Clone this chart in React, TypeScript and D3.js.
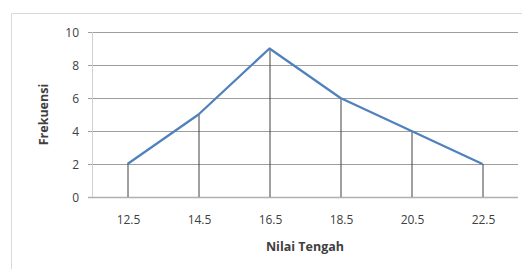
import React from "react";
import * as d3 from "d3";

const categories = ["12.5", "14.5", "16.5", "18.5", "20.5", "22.5"];
const frekuensi = [2, 5, 9, 6, 4, 2];
const yTicks = [0, 2, 4, 6, 8, 10];

export default function App() {
  const w = 526, h = 269;
  const left = 92, right = 518, top = 32, bottom = 197;

  const x = d3.scaleBand<string>().domain(categories).range([left, right]);
  const y = d3.scaleLinear().domain([0, 10]).range([bottom, top]);
  const cx = (c: string) => (x(c) ?? 0) + x.bandwidth() / 2;

  const line = d3.line<number>()
    .x((_, i) => cx(categories[i]))
    .y(d => y(d));

  const font = "'Open Sans', 'Liberation Sans', sans-serif";

  return (
    <svg width={w} height={h} style={{ position: "absolute", left: 0, top: 0 }}>
      <rect x={0} y={0} width={w} height={h} fill="#fff" />
      <path d="M11.5,269 V13.5 H522" fill="none" stroke="#d9d9d9" strokeWidth={1} />
      {yTicks.map(t => (
        <g key={t}>
          <line x1={left - 4} x2={right} y1={y(t) + 0.5} y2={y(t) + 0.5}
            stroke={t === 0 ? "#b0b0b0" : "#9e9e9e"} strokeWidth={t === 0 ? 1.5 : 1} />
          <text x={79} y={y(t) + 4.5} textAnchor="end" fontFamily={font} fontSize={12} fill="#404040">{t}</text>
        </g>
      ))}
      <line x1={left + 0.5} x2={left + 0.5} y1={top} y2={bottom} stroke="#d0d0d0" />
      {categories.map((c, i) => (
        <g key={c}>
          <line x1={cx(c) + 0.5} x2={cx(c) + 0.5} y1={y(frekuensi[i])} y2={bottom} stroke="#404040" strokeWidth={1} />
          <text x={cx(c) + 1} y={224} textAnchor="middle" fontFamily={font} fontSize={12} fill="#404040">{c}</text>
        </g>
      ))}
      <path d={line(frekuensi) ?? ""} fill="none" stroke="#4f81bd" strokeWidth={2.25} strokeLinejoin="round" />
      <text x={305} y={251} textAnchor="middle" fontFamily={font} fontSize={12.5} fontWeight="bold" fill="#404040">Nilai Tengah</text>
      <text transform={`translate(48,${(top + bottom) / 2}) rotate(-90)`} textAnchor="middle" fontFamily={font}
        fontSize={12.5} fontWeight="bold" fill="#404040">Frekuensi</text>
    </svg>
  );
}
